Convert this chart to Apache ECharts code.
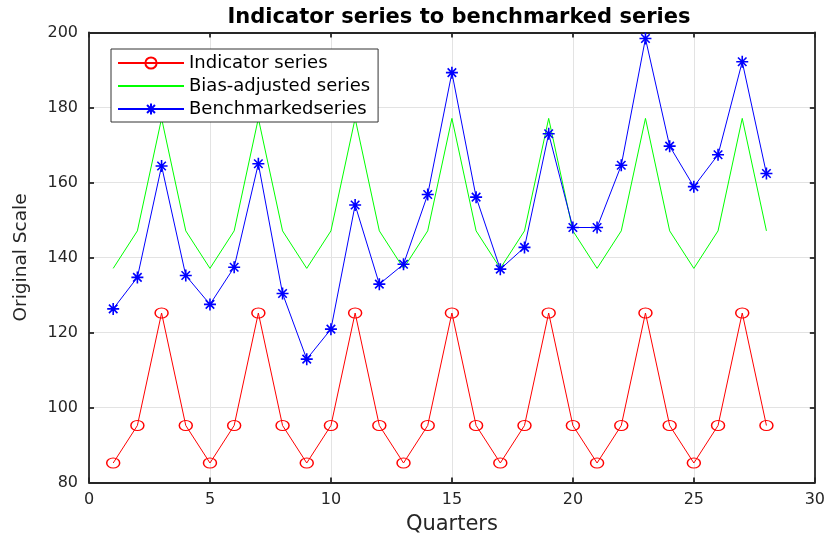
<!DOCTYPE html>
<html>
<head>
<meta charset="utf-8">
<script src="https://cdn.jsdelivr.net/npm/echarts@6/dist/echarts.min.js"></script>
<style>html,body{margin:0;padding:0;background:#fff}#c{width:828px;height:542px}</style>
</head>
<body>
<div id="c"></div>
<script>
const quarters = [1,2,3,4,5,6,7,8,9,10,11,12,13,14,15,16,17,18,19,20,21,22,23,24,25,26,27,28];
const indicatorSeries = [85.2,95.2,125.2,95.2,85.2,95.2,125.2,95.2,85.2,95.2,125.2,95.2,85.2,95.2,125.2,95.2,85.2,95.2,125.2,95.2,85.2,95.2,125.2,95.2,85.2,95.2,125.2,95.2];
const biasAdjusted = [137.1,147.1,177.1,147.1,137.1,147.1,177.1,147.1,137.1,147.1,177.1,147.1,137.1,147.1,177.1,147.1,137.1,147.1,177.1,147.1,137.1,147.1,177.1,147.1,137.1,147.1,177.1,147.1];
const benchmarked = [126.3,134.7,164.4,135.2,127.5,137.4,165.0,130.4,112.9,120.9,154.0,132.9,138.2,156.8,189.3,156.1,136.9,142.7,173.0,148.0,148.0,164.6,198.4,169.7,158.9,167.4,192.2,162.4];
const xTicks = {min: 0, max: 30, interval: 5};
const yTicks = {min: 80, max: 200, interval: 20};
const names = ['Indicator series', 'Bias-adjusted series', 'Benchmarkedseries'];

const FONT = 'DejaVu Sans, Verdana, sans-serif';
const axisCol = '#262626';
const pairs = (ys) => quarters.map((q, i) => [q, ys[i]]);

const baseAxis = {
  axisLine: {show: true, onZero: false, lineStyle: {color: axisCol, width: 1.8}},
  axisTick: {show: true, inside: true, length: 5, lineStyle: {color: axisCol, width: 1.8}},
  minorTick: {show: false}
};

const chart = echarts.init(document.getElementById('c'));
chart.setOption({
  animation: false,
  backgroundColor: '#fff',
  title: {
    text: 'Indicator series to benchmarked series',
    left: 454, top: 2, textAlign: 'center',
    textStyle: {fontFamily: FONT, fontWeight: 'bold', fontSize: 21, color: '#000'}
  },
  grid: {left: 89, right: 12, top: 32.5, bottom: 59.5, containLabel: false},
  legend: {
    left: 111, top: 49, orient: 'vertical',
    data: [
      {name: names[0]},
      {name: names[1], itemStyle: {color: 'rgba(0,0,0,0)', borderWidth: 0, opacity: 0}},
      {name: names[2]}
    ],
    itemWidth: 66, itemHeight: 14, itemGap: 5,
    padding: [5, 8, 4, 6],
    borderColor: '#333', borderWidth: 1, backgroundColor: '#fff',
    textStyle: {fontFamily: FONT, fontSize: 18, color: '#000', lineHeight: 16}
  },
  xAxis: [
    Object.assign({}, baseAxis, {
      type: 'value', position: 'bottom', min: xTicks.min, max: xTicks.max, interval: xTicks.interval,
      name: 'Quarters', nameLocation: 'middle', nameGap: 32,
      nameTextStyle: {fontFamily: FONT, fontSize: 21, color: axisCol},
      axisLabel: {fontFamily: FONT, fontSize: 16, color: axisCol, margin: 9},
      splitLine: {show: true, lineStyle: {color: '#e3e3e3', width: 1}}
    }),
    Object.assign({}, baseAxis, {
      type: 'value', position: 'top', min: xTicks.min, max: xTicks.max, interval: xTicks.interval,
      axisLabel: {show: false}, splitLine: {show: false}
    })
  ],
  yAxis: [
    Object.assign({}, baseAxis, {
      type: 'value', position: 'left', min: yTicks.min, max: yTicks.max, interval: yTicks.interval,
      name: 'Original Scale', nameLocation: 'middle', nameGap: 58,
      nameTextStyle: {fontFamily: FONT, fontSize: 18.5, color: axisCol},
      axisLabel: {fontFamily: FONT, fontSize: 16, color: axisCol, margin: 11},
      splitLine: {show: true, lineStyle: {color: '#e3e3e3', width: 1}}
    }),
    Object.assign({}, baseAxis, {
      type: 'value', position: 'right', min: yTicks.min, max: yTicks.max, interval: yTicks.interval,
      axisLabel: {show: false}, splitLine: {show: false}
    })
  ],
  series: [
    {
      name: names[0], type: 'line', xAxisIndex: 0, yAxisIndex: 0,
      data: pairs(indicatorSeries),
      symbol: 'circle', symbolSize: [13, 10], showSymbol: true,
      itemStyle: {color: 'rgba(255,0,0,0)', borderColor: '#ff0000', borderWidth: 1.3},
      lineStyle: {color: '#ff0000', width: 1},
      emphasis: {disabled: true}, z: 3
    },
    {
      name: names[1], type: 'line', xAxisIndex: 0, yAxisIndex: 0,
      data: pairs(biasAdjusted),
      symbol: 'none',
      itemStyle: {color: '#00ff00'},
      lineStyle: {color: '#00ff00', width: 1},
      emphasis: {disabled: true}, z: 2
    },
    {
      name: names[2], type: 'line', xAxisIndex: 0, yAxisIndex: 0,
      data: pairs(benchmarked),
      symbol: 'path://M12,0L12,24M0,12L24,12M3.5,3.5L20.5,20.5M3.5,20.5L20.5,3.5',
      symbolSize: 12, showSymbol: true,
      itemStyle: {color: 'rgba(0,0,255,0)', borderColor: '#0000ff', borderWidth: 1.6},
      lineStyle: {color: '#0000ff', width: 1},
      emphasis: {disabled: true}, z: 4
    }
  ]
});
</script>
</body>
</html>
